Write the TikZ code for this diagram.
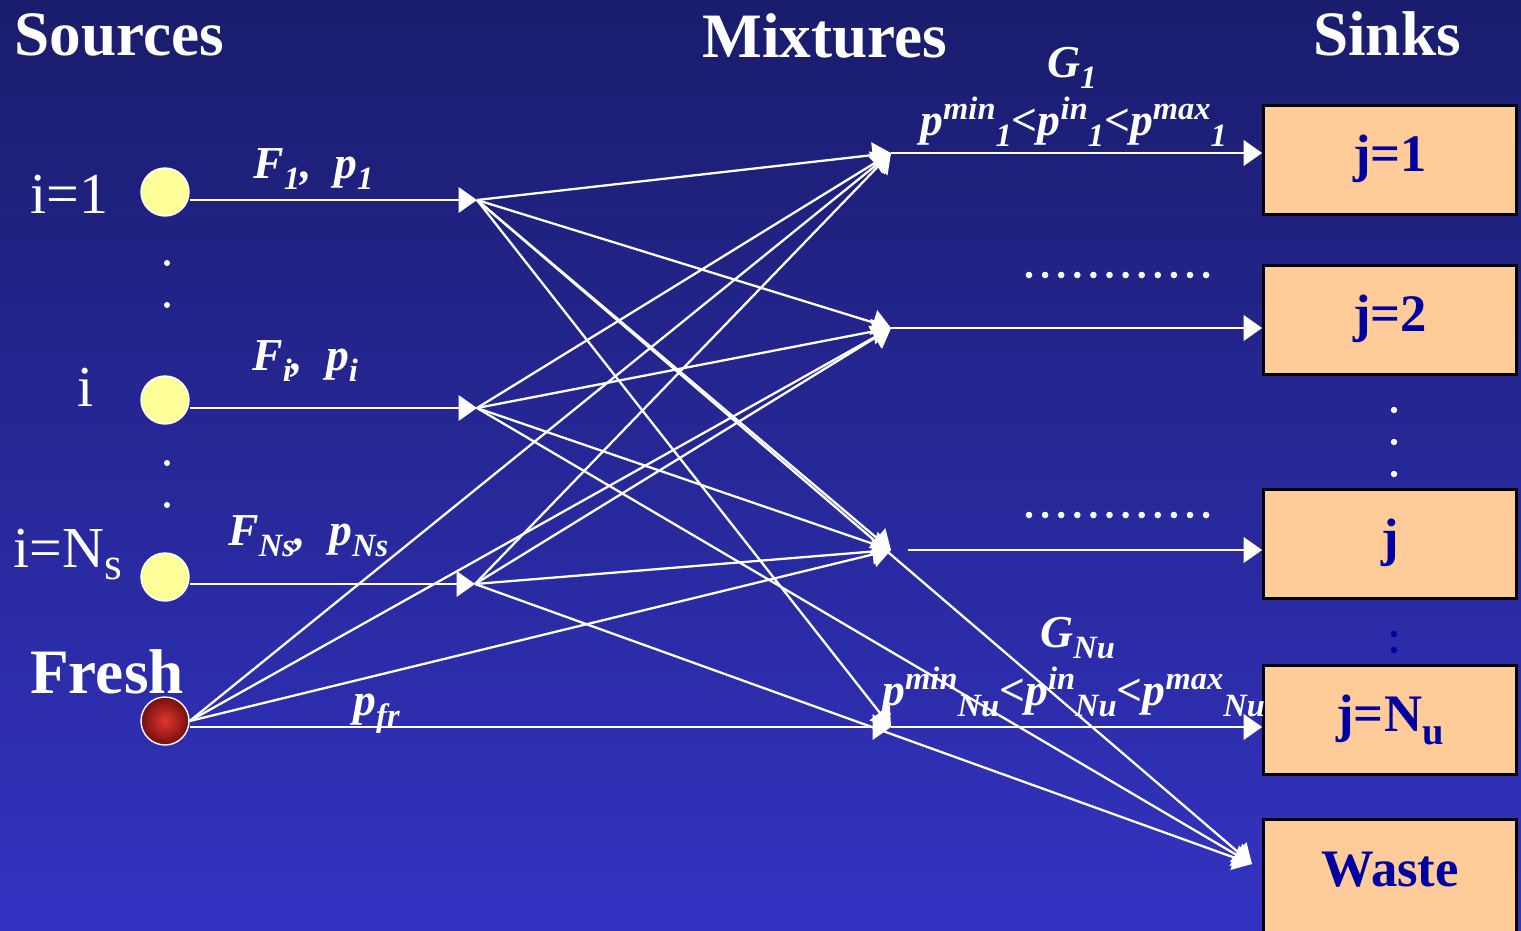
\documentclass[tikz,border=0pt]{standalone}
\usepackage{fontspec}
\setmainfont{Liberation Serif}
\usetikzlibrary{arrows.meta,positioning,calc}
\definecolor{bgtop}{RGB}{26,28,108}
\definecolor{bgbot}{RGB}{51,51,194}
\definecolor{srcyellow}{RGB}{255,255,153}
\definecolor{sinkfill}{RGB}{255,204,153}
\definecolor{sinktext}{RGB}{0,0,160}
\definecolor{freshin}{RGB}{225,55,45}
\definecolor{freshout}{RGB}{115,15,15}
\newcommand\fsz[1]{\fontsize{#1}{#1}\selectfont}
\newcommand\supx[1]{\raisebox{9pt}{\fsz{18.5}#1}}
\newcommand\subx[1]{\raisebox{-6.5pt}{\fsz{18.5}#1}}

\begin{document}
\begin{tikzpicture}[x=0.02cm, y=-0.02cm,
  flow/.style={draw=white, line width=1.3pt, -{Triangle[length=10.5pt,width=14.5pt]}},
  src/.style={circle, draw=white, line width=0.8pt, fill=srcyellow, minimum size=0.96cm, inner sep=0pt},
  snk/.style={draw=black, line width=1.6pt, fill=sinkfill, minimum width=5.06cm, minimum height=2.18cm,
    text=sinktext, font=\fsz{30}\bfseries, text height=21pt, text depth=7.6pt},
  hd/.style={text=white, font=\fsz{36}\bfseries, inner sep=0pt},
  nm/.style={text=white, font=\fsz{33}, inner sep=0pt},
  lbl/.style={text=white, font=\fsz{26}\bfseries\itshape, inner sep=0pt}]
\clip (0,0) rectangle (1521,930);
\shade[top color=bgtop, bottom color=bgbot] (0,0) rectangle (1521,930);
% Headings
\node[hd, anchor=base west] (hsrc) at (14,55) {Sources};
\node[hd, anchor=base] (hmix) at (825,57) {Mixtures};
\node[hd, anchor=base] (hsnk) at (1387,55) {Sinks};
% Sources
\node[src] (src1) at (165,192) {};
\node[src] (srci) at (165,400) {};
\node[src] (srcns) at (165,577) {};
\node[circle, draw=white, line width=0.8pt, inner color=freshin, outer color=freshout,
  minimum size=0.96cm, inner sep=0pt] (fresh) at (165,721) {};
\node[nm, anchor=base west] (ni1) at (30,213) {i=1};
\node[nm, anchor=base] (nii) at (86,406) {i};
\node[nm, anchor=base west] (nins) at (13,567) {i=N\raisebox{-7pt}{\fsz{26}s}};
\node[hd, anchor=base west] (nfr) at (30,693) {Fresh};
\foreach \y in {263,305,463,505} \fill[white] (167,\y) circle[radius=3];
% Splitters and mixers
\coordinate (s1) at (477,200);
\coordinate (si) at (477,408);
\coordinate (sns) at (475,584);
\coordinate (m1) at (891,153);
\coordinate (m2) at (891,328);
\coordinate (mj) at (891,550);
\coordinate (mnu) at (891,727);
\coordinate (win) at (1252,864);
% Sinks
\node[snk] (k1) at (1390,160) {j=1};
\node[snk] (k2) at (1390,320) {j=2};
\node[snk] (kj) at (1390,544) {j};
\node[snk] (knu) at (1390,720) {j=N\raisebox{-7pt}{\fsz{22}u}};
\node[snk, anchor=north, minimum height=2.6cm, text depth=18.8pt] (kw) at (1390,818) {Waste};
\foreach \y in {410,442,474} \fill[white] (1394,\y) circle[radius=3.2];
\foreach \y in {634,650} \fill[sinktext] (1394,\y) circle[radius=3.2];
\foreach \y in {275,515} \foreach \k in {0,...,11} \fill[white] (1029+16.1*\k,\y) circle[radius=3.3];
% Source streams
\draw[flow] (src1.east |- s1) -- (s1);
\draw[flow] (srci.east |- si) -- (si);
\draw[flow] (srcns.east |- sns) -- (sns);
\draw[flow] (fresh.east |- mnu) -- (mnu);
\foreach \a in {m1,m2,mj,mnu,win} \draw[flow] (s1) -- (\a);
\foreach \a in {m1,m2,mj,win} \draw[flow] (si) -- (\a);
\foreach \a in {m1,m2,mj,win} \draw[flow] (sns) -- (\a);
\foreach \a in {m1,m2,mj} \draw[flow] (fresh.east) -- (\a);
% Mixer outlets
\draw[flow] (m1) -- (m1 -| k1.west);
\draw[flow] (m2) -- (m2 -| k2.west);
\draw[flow] ($(mj)+(17,0)$) -- (mj -| kj.west);
\draw[flow] (mnu) -- (mnu -| knu.west);
% Labels
\node[lbl, anchor=base west] (lf1) at (253,178) {F\subx{1},\enspace p\subx{1}};
\node[lbl, anchor=base west] (lfi) at (252,370) {F\subx{i},\enspace p\subx{i}};
\node[lbl, anchor=base west] (lfns) at (228,545) {F\subx{Ns},\enspace p\subx{Ns}};
\node[lbl, anchor=base west] (lpfr) at (353,715) {p\subx{fr}};
\node[lbl, anchor=base west] (lg1) at (1047,77) {G\subx{1}};
\node[lbl, anchor=base west] (lc1) at (920,135) {p\supx{min}\subx{1}<p\supx{in}\subx{1}<p\supx{max}\subx{1}};
\node[lbl, anchor=base west] (lgnu) at (1040,647) {G\subx{Nu}};
\node[lbl, anchor=base west] (lcnu) at (882,705) {p\supx{min}\subx{Nu}<p\supx{in}\subx{Nu}<p\supx{max}\subx{Nu}};
\end{tikzpicture}
\end{document}
